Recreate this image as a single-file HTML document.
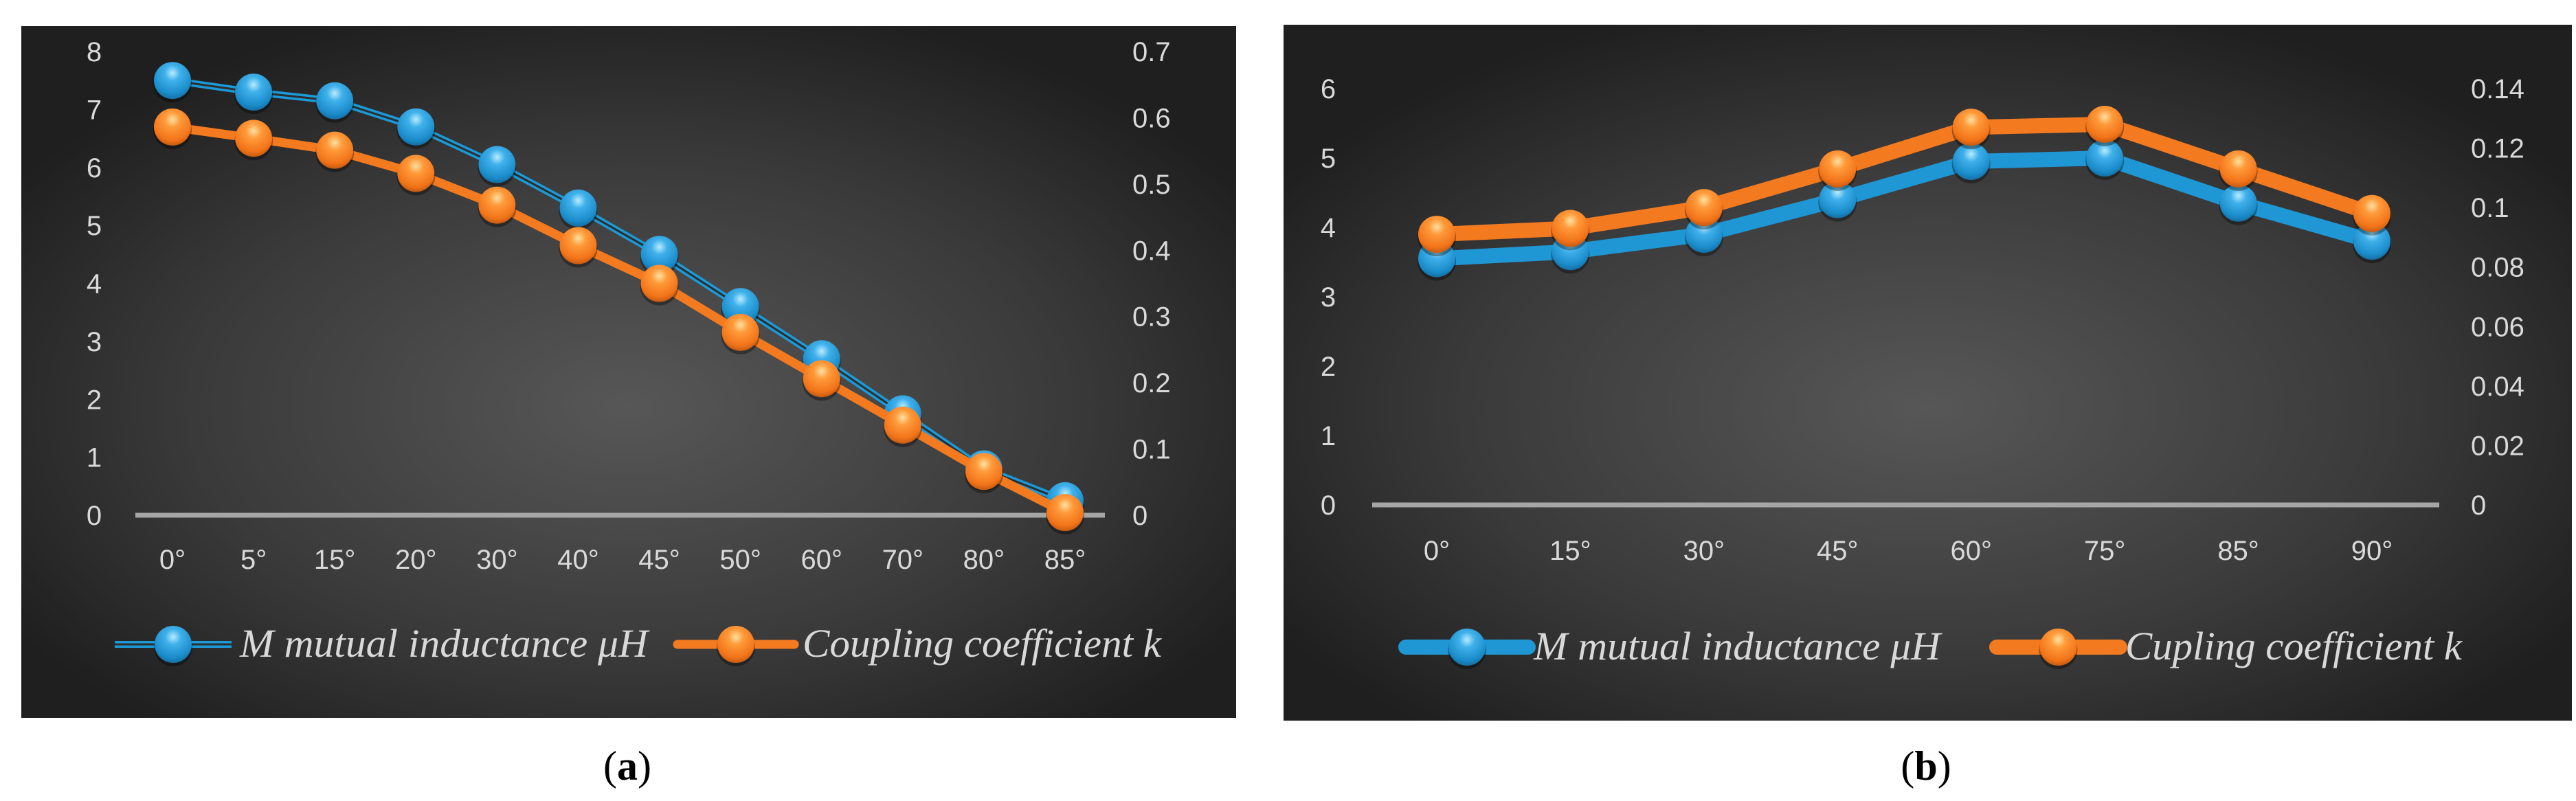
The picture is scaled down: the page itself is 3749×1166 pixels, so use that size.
<!DOCTYPE html>
<html><head><meta charset="utf-8">
<style>
html,body{margin:0;padding:0;background:#fff;}
svg{display:block;}
.tick{font-family:"Liberation Sans Narrow","Liberation Sans",sans-serif;font-size:40px;fill:#d9d9d9;}
.leg{font-family:"Liberation Serif",serif;font-style:italic;font-size:58px;fill:#d9d9d9;}
.cap{font-family:"Liberation Serif",serif;font-size:60px;fill:#000;}
</style></head>
<body>
<svg id="root" width="3749" height="1166" viewBox="0 0 3749 1166" xmlns="http://www.w3.org/2000/svg">
<defs>
<radialGradient id="bg" cx="0.5" cy="0.55" r="0.6">
<stop offset="0" stop-color="#575757"/><stop offset="0.6" stop-color="#3a3a3a"/><stop offset="1" stop-color="#1f1f1f"/>
</radialGradient>
<radialGradient id="ballB" cx="0.5" cy="0.3" r="0.7">
<stop offset="0" stop-color="#b8ecff"/><stop offset="0.3" stop-color="#3fb0ea"/><stop offset="0.8" stop-color="#1a8cca"/><stop offset="1" stop-color="#156fa3"/>
</radialGradient>
<radialGradient id="ballO" cx="0.5" cy="0.3" r="0.7">
<stop offset="0" stop-color="#ffe0a0"/><stop offset="0.3" stop-color="#ff9a3a"/><stop offset="0.8" stop-color="#f27318"/><stop offset="1" stop-color="#c55a12"/>
</radialGradient>
</defs>
<rect x="31" y="38" width="1768" height="1007" fill="url(#bg)"/>
<rect x="1868" y="36" width="1875" height="1013" fill="url(#bg)"/>
<g id="ga"></g>
<g id="gb"></g>
<text class="cap" x="913" y="1135" text-anchor="middle">(<tspan font-weight="bold">a</tspan>)</text>
<text class="cap" x="2803" y="1135" text-anchor="middle">(<tspan font-weight="bold">b</tspan>)</text>
</svg>
<script>
const catsA=["0°","5°","15°","20°","30°","40°","45°","50°","60°","70°","80°","85°"];
const mA=[7.5,7.3,7.15,6.7,6.05,5.3,4.5,3.6,2.7,1.75,0.8,0.25];
const kA=[0.586,0.569,0.551,0.516,0.468,0.407,0.35,0.276,0.206,0.136,0.066,0.004];
const leftTicksA=[0,1,2,3,4,5,6,7,8];
const rightTicksA=["0","0.1","0.2","0.3","0.4","0.5","0.6","0.7"];
const catsB=["0°","15°","30°","45°","60°","75°","85°","90°"];
const mB=[3.55,3.65,3.9,4.4,4.95,5.0,4.35,3.8];
const kB=[0.091,0.093,0.1,0.113,0.127,0.128,0.113,0.098];
const leftTicksB=[0,1,2,3,4,5,6];
const rightTicksB=["0","0.02","0.04","0.06","0.08","0.1","0.12","0.14"];
const NS="http://www.w3.org/2000/svg";
function mk(tag,attrs,parent){const e=document.createElementNS(NS,tag);for(const k in attrs)e.setAttribute(k,attrs[k]);parent.appendChild(e);return e;}
function ball(g,x,y,fill){
 const c=mk('circle',{cx:x,cy:y+4,r:28,fill:'rgba(0,0,0,0.35)'},g);
 
 
 const b=mk('circle',{cx:x,cy:y,r:27,fill:fill},g);
 
 
}
function chart(cfg){
 const g=document.getElementById(cfg.id);
 const xs=i=>cfg.x0+i*(cfg.x1-cfg.x0)/(cfg.cats.length-1);
 const yL=v=>cfg.yBase-v*(cfg.yBase-cfg.yTop)/cfg.lmax;
 const yR=v=>cfg.yBase-v*(cfg.yBase-cfg.yTop)/cfg.rmax;
 cfg.lt.forEach(v=>{const t=mk('text',{class:'tick',x:cfg.lx,y:yL(v)+14,'text-anchor':'middle'},g);t.textContent=v;
  
  });
 cfg.rt.forEach((s,i)=>{const v=i*cfg.rmax/(cfg.rt.length-1);const t=mk('text',{class:'tick',x:cfg.rx,y:yR(v)+14},g);t.textContent=s;
  
  });
 const ax=mk('line',{x1:cfg.ax0,x2:cfg.ax1,y1:cfg.yBase,y2:cfg.yBase,stroke:'#a6a6a6','stroke-width':7},g);
 
 
 cfg.cats.forEach((c,i)=>{const t=mk('text',{class:'tick',x:xs(i),y:cfg.xly,'text-anchor':'middle'},g);t.textContent=c;
  
  });
 const pm=cfg.m.map((v,i)=>xs(i)+','+yL(v)).join(' ');
 const pk=cfg.k.map((v,i)=>xs(i)+','+yR(v)).join(' ');
 if(cfg.thinBlue){
  const l1=mk('polyline',{points:pm,fill:'none',stroke:'#1a9ad8','stroke-width':10,'stroke-linejoin':'round'},g);
  
  
  const l2=mk('polyline',{points:pm,fill:'none',stroke:'#2d2d2d','stroke-width':3,'stroke-linejoin':'round'},g);
  
  
 } else {
  const l1=mk('polyline',{points:pm,fill:'none',stroke:'#1f97d4','stroke-width':cfg.lw,'stroke-linejoin':'round'},g);
  
  
 }
 const mg=mk('g',{},g);
 
 
 cfg.m.forEach((v,i)=>ball(mg,xs(i),yL(v),'url(#ballB)'));
 const l3=mk('polyline',{points:pk,fill:'none',stroke:'#f47a20','stroke-width':cfg.lw,'stroke-linejoin':'round'},g);
 
 
 const kg=mk('g',{},g);
 
 
 cfg.k.forEach((v,i)=>ball(kg,xs(i),yR(v),'url(#ballO)'));
 // legend
 const L=cfg.leg;
 const lb=mk('g',{},g);
 
 
 if(cfg.thinBlue){
  mk('line',{x1:L.b0,x2:L.b1,y1:L.y,y2:L.y,stroke:'#1a9ad8','stroke-width':10},lb);
  mk('line',{x1:L.b0,x2:L.b1,y1:L.y,y2:L.y,stroke:'#2d2d2d','stroke-width':3},lb);
 } else mk('line',{x1:L.b0,x2:L.b1,y1:L.y,y2:L.y,stroke:'#1f97d4','stroke-width':cfg.lw,'stroke-linecap':'round'},lb);
 ball(lb,(L.b0+L.b1)/2,L.y,'url(#ballB)');
 const t1=mk('text',{class:'leg',x:L.t0,y:L.y+18,textLength:L.t0w,lengthAdjust:'spacingAndGlyphs'},lb);t1.textContent='M mutual inductance μH';
 const lo=mk('g',{},g);
 
 
 mk('line',{x1:L.o0,x2:L.o1,y1:L.y,y2:L.y,stroke:'#f47a20','stroke-width':cfg.lw,'stroke-linecap':'round'},lo);
 ball(lo,(L.o0+L.o1)/2,L.y,'url(#ballO)');
 const t2=mk('text',{class:'leg',x:L.t1,y:L.y+18,textLength:L.t1w,lengthAdjust:'spacingAndGlyphs'},lo);t2.textContent=cfg.kname;
}
chart({id:'ga',cats:catsA,m:mA,k:kA,lt:leftTicksA,rt:rightTicksA,lmax:8,rmax:0.7,x0:251,x1:1550,yBase:750,yTop:75,lx:137,rx:1648,ax0:197,ax1:1608,xly:828,thinBlue:true,lw:13,kname:'Coupling coefficient k',
 leg:{y:938,b0:167,b1:337,t0:349,t0w:594,o0:986,o1:1156,t1:1168,t1w:522}});
chart({id:'gb',cats:catsB,m:mB,k:kB,lt:leftTicksB,rt:rightTicksB,lmax:6,rmax:0.14,x0:2091,x1:3452,yBase:735,yTop:129,lx:1933,rx:3596,ax0:1997,ax1:3550,xly:815,thinBlue:false,lw:22,kname:'Cupling coefficient k',
 leg:{y:942,b0:2046,b1:2224,t0:2232,t0w:592,o0:2906,o1:3085,t1:3093,t1w:490}});
</script>
</body></html>
